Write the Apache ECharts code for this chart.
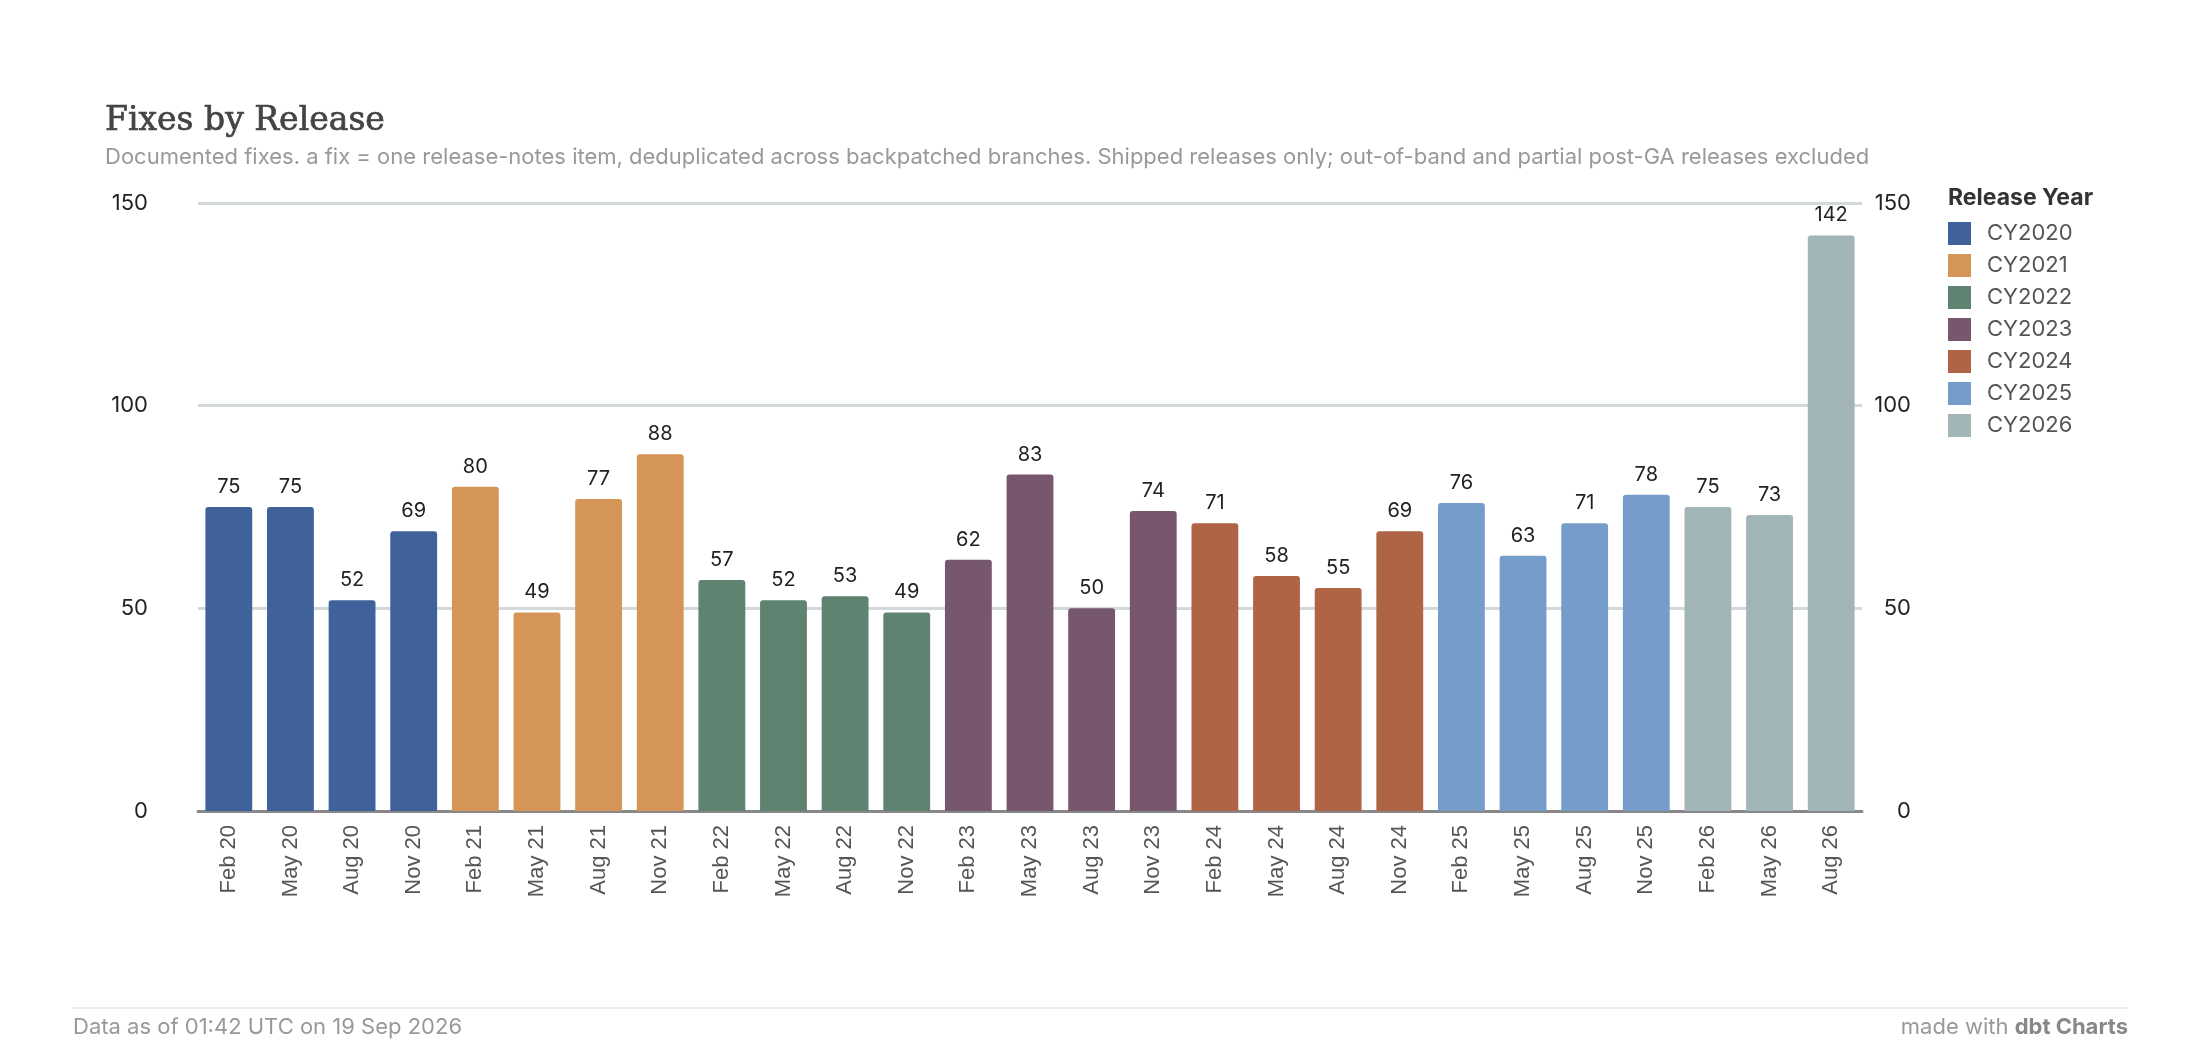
<!DOCTYPE html>
<html>
<head>
<meta charset="utf-8">
<title>Fixes by Release</title>
<script src="https://cdn.jsdelivr.net/npm/echarts@6/dist/echarts.min.js"></script>
<style>
    html, body {margin: 0; padding: 0; background: #fff;}
    #chart {width: 2200px; height: 1062px;}
</style>
</head>
<body>
<div id="chart"></div>
<script>
// releases, one bar each
var releases = ['Feb 20', 'May 20', 'Aug 20', 'Nov 20', 'Feb 21', 'May 21', 'Aug 21', 'Nov 21',
    'Feb 22', 'May 22', 'Aug 22', 'Nov 22', 'Feb 23', 'May 23', 'Aug 23', 'Nov 23',
    'Feb 24', 'May 24', 'Aug 24', 'Nov 24', 'Feb 25', 'May 25', 'Aug 25', 'Nov 25',
    'Feb 26', 'May 26', 'Aug 26']
var fixes = [75, 75, 52, 69, 80, 49, 77, 88,
    57, 52, 53, 49, 62, 83, 50, 74,
    71, 58, 55, 69, 76, 63, 71, 78,
    75, 73, 142]
var releaseYear = ['CY2020', 'CY2020', 'CY2020', 'CY2020', 'CY2021', 'CY2021', 'CY2021', 'CY2021',
    'CY2022', 'CY2022', 'CY2022', 'CY2022', 'CY2023', 'CY2023', 'CY2023', 'CY2023',
    'CY2024', 'CY2024', 'CY2024', 'CY2024', 'CY2025', 'CY2025', 'CY2025', 'CY2025',
    'CY2026', 'CY2026', 'CY2026']
var years = ['CY2020', 'CY2021', 'CY2022', 'CY2023', 'CY2024', 'CY2025', 'CY2026']
var yearColors = ['#40629b', '#d49556', '#5e8371', '#77576d', '#b06446', '#769cc9', '#a1b5b6']
var yTicks = [0, 50, 100, 150]

var chartDom = document.getElementById('chart');
var myChart = echarts.init(chartDom);
var option;

// one series per year, stacked so every bar sits centred in its slot
var series = years.map(function (yr, i) {
    return {
        name: yr,
        type: 'bar',
        stack: 'all',
        barCategoryGap: '24%',
        itemStyle: {color: yearColors[i], borderRadius: [3, 3, 0, 0]},
        label: {
            show: true,
            position: 'top',
            distance: 10,
            color: '#222',
            fontFamily: 'Inter',
            fontSize: 20
        },
        data: fixes.map(function (v, k) {
            return releaseYear[k] === yr ? v : null
        })
    }
})

var yLabel = {
    color: '#222',
    fontFamily: 'Inter',
    fontSize: 22
}

option = {
    animation: false,
    grid: {left: 198, right: 338, top: 203, bottom: 251},
    legend: {
        data: years,
        orient: 'vertical',
        left: 1948,
        top: 222,
        padding: 0,
        icon: 'rect',
        itemWidth: 23,
        itemHeight: 23,
        itemGap: 9,
        textStyle: {color: '#555', fontFamily: 'Inter', fontSize: 22, padding: [0, 0, 0, 11]}
    },
    xAxis: {
        type: 'category',
        data: releases,
        axisLine: {lineStyle: {color: '#888', width: 3}},
        axisTick: {show: false},
        axisLabel: {
            interval: 0,
            rotate: 90,
            margin: 14,
            color: '#555',
            fontFamily: 'Liberation Sans',
            fontSize: 22
        }
    },
    yAxis: [
        {
            type: 'value',
            min: yTicks[0],
            max: yTicks[yTicks.length - 1],
            interval: 50,
            axisLine: {show: false},
            axisTick: {show: false},
            splitLine: {lineStyle: {color: '#d3d9db', width: 3}},
            axisLabel: Object.assign({margin: 50}, yLabel)
        },
        {
            type: 'value',
            position: 'right',
            min: yTicks[0],
            max: yTicks[yTicks.length - 1],
            interval: 50,
            axisLine: {show: false},
            axisTick: {show: false},
            splitLine: {show: false},
            axisLabel: Object.assign({margin: 49, align: 'right'}, yLabel)
        }
    ],
    graphic: [
        {
            type: 'text', x: 105, y: 121,
            style: {
                text: 'Fixes by Release', fill: '#444', stroke: '#444', lineWidth: 0.7,
                font: '33px "DejaVu Serif"', align: 'left', verticalAlign: 'middle'
            }
        },
        {
            type: 'text', x: 105, y: 157,
            style: {
                text: 'Documented fixes. a fix = one release-notes item, deduplicated across backpatched branches. Shipped releases only; out-of-band and partial post-GA releases excluded',
                fill: '#999', font: '22px Inter', align: 'left', verticalAlign: 'middle'
            }
        },
        {
            type: 'text', x: 1948, y: 198,
            style: {
                text: 'Release Year', fill: '#333',
                font: 'bold 23px Inter', align: 'left', verticalAlign: 'middle'
            }
        },
        {
            type: 'line',
            shape: {x1: 72, y1: 1008, x2: 2128, y2: 1008},
            style: {stroke: '#eeeeee', lineWidth: 2}
        },
        {
            type: 'text', x: 73, y: 1027,
            style: {
                text: 'Data as of 01:42 UTC on 19 Sep 2026', fill: '#999',
                font: '22px Inter', align: 'left', verticalAlign: 'middle'
            }
        },
        {
            type: 'text', x: 2128, y: 1027,
            style: {
                text: '{a|made with }{b|dbt Charts}',
                align: 'right', verticalAlign: 'middle',
                rich: {
                    a: {fill: '#999', fontFamily: 'Inter', fontSize: 22},
                    b: {fill: '#888', fontFamily: 'Inter', fontSize: 22, fontWeight: 'bold'}
                }
            }
        }
    ],
    series: series
};

option && myChart.setOption(option);
</script>
</body>
</html>
